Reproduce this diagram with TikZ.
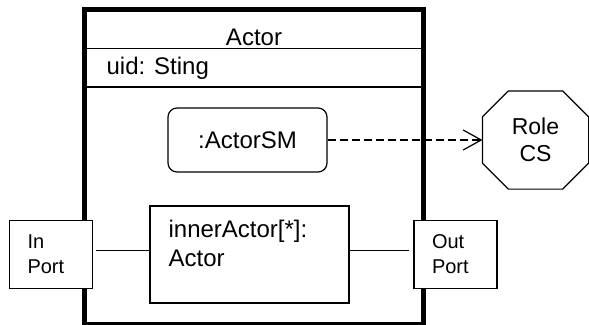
\documentclass[tikz,border=0pt]{standalone}
\usepackage{fontspec}
\setmainfont{Liberation Sans}
\usetikzlibrary{arrows.meta, positioning}
\tikzstyle{arrow}=[-{Straight Barb[length=18pt,width=20pt]}, line width=1.2pt,
                   dash pattern=on 8pt off 4pt]

\begin{document}
\begin{tikzpicture}[x=1pt, y=-1pt, line width=1.2pt,
  frame/.style={rectangle, draw, line width=4.5pt, minimum width=339pt,
                minimum height=315pt, inner sep=0pt},
  part/.style={rectangle, draw, inner sep=0pt, font=\fontsize{24}{29.5}\selectfont},
  port/.style={rectangle, draw, fill=white, minimum width=83pt, minimum height=68pt,
               inner xsep=18pt, text width=47pt, align=left,
               font=\fontsize{20}{25}\selectfont},
  txt/.style={inner sep=0pt, font=\fontsize{24}{29.5}\selectfont}
]
\useasboundingbox (0,0) rectangle (589,324);

% Actor class frame
\node[frame] (actor) at (254,167) {};
\node[txt, anchor=base] (name) at (254,45) {Actor};
\coordinate (sep1) at (0,48.5);
\coordinate (sep2) at (0,87);
\draw (actor.west |- sep1) -- (actor.east |- sep1);
\node[txt, anchor=base west] (attr) at (106,74) {uid: Sting};
\draw (actor.west |- sep2) -- (actor.east |- sep2);

% State machine and role
\node[part, rounded corners=9pt, minimum width=159pt, minimum height=64pt] (sm) at (247.5,140) {:ActorSM};
\node[rectangle, minimum width=105pt, minimum height=97pt, align=center,
      font=\fontsize{23}{27}\selectfont] (role) at (535.5,140) {Role\\CS};
\draw ([xshift=26pt]role.north west) -- ([xshift=-26pt]role.north east)
   -- ([yshift=-26pt]role.north east) -- ([yshift=26pt]role.south east)
   -- ([xshift=-26pt]role.south east) -- ([xshift=26pt]role.south west)
   -- ([yshift=26pt]role.south west) -- ([yshift=-26pt]role.north west) -- cycle;
\draw[arrow] (sm.east) -- (role.west);

% Inner part and ports
\node[part, minimum width=199pt, minimum height=97pt] (inner) at (249.5,254.5) {};
\node[txt, align=left, anchor=base west] (innerlbl) at (168,266.7) {innerActor[*]:\\Actor};
\node[port] (inport) at (51,254.5) {In\\Port};
\node[port] (outport) at (455.5,254.5) {Out\\Port};

\draw[shorten <=3pt] ([yshift=4pt]inport.east) -- ([yshift=4pt]inner.west);
\draw[shorten >=4pt] ([yshift=4pt]inner.east) -- ([yshift=4pt]outport.west);
\end{tikzpicture}
\end{document}
